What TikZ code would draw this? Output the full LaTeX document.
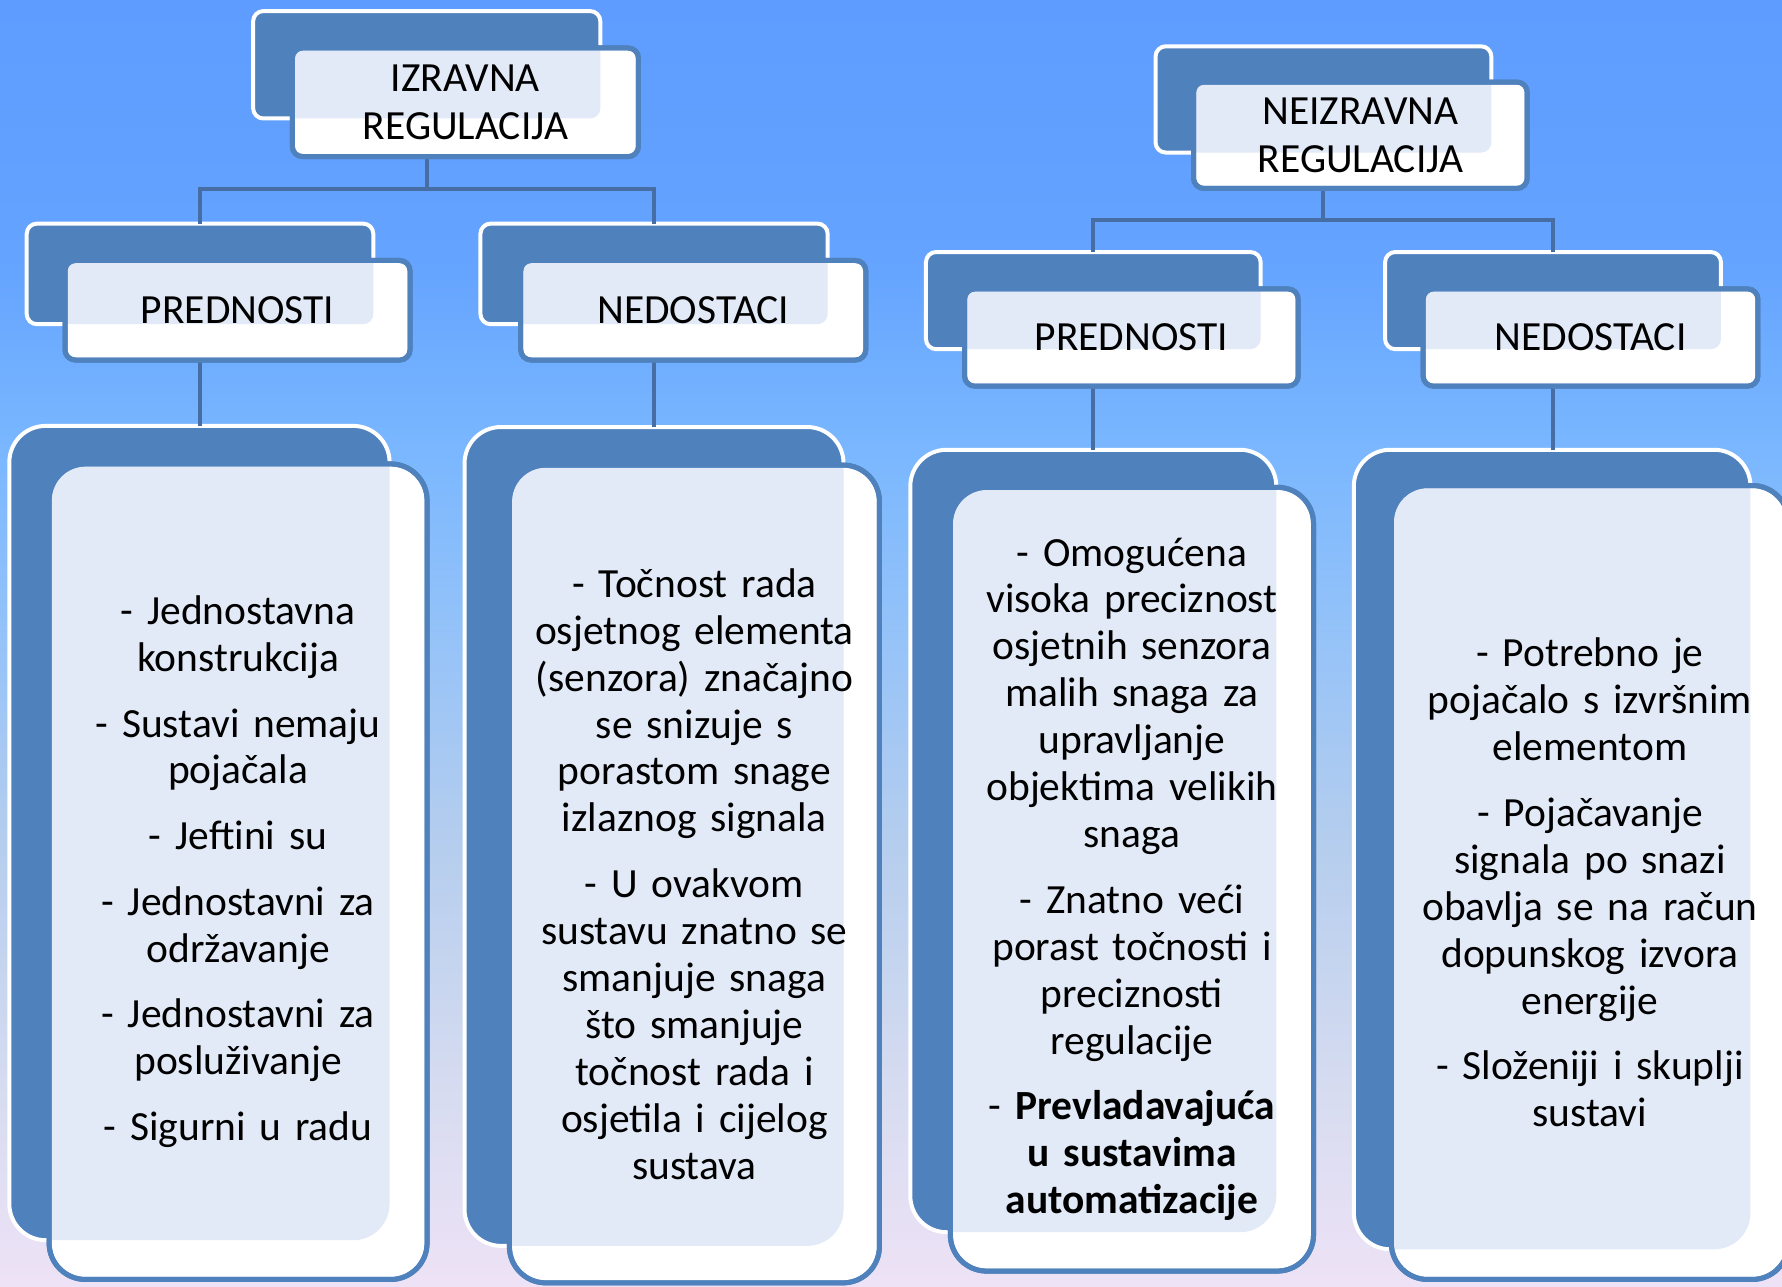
\documentclass[tikz,border=0pt]{standalone}
\usepackage{fontspec}
\setmainfont{Carlito}
\definecolor{backblue}{RGB}{79,129,189}
\definecolor{frontblue}{RGB}{79,129,189}
\definecolor{tintc}{RGB}{226,234,247}
\definecolor{connc}{RGB}{70,110,165}
\definecolor{bgA}{RGB}{94,156,255}
\definecolor{bgB}{RGB}{100,163,255}
\definecolor{bgC}{RGB}{122,183,255}
\definecolor{bgD}{RGB}{150,195,248}
\definecolor{bgE}{RGB}{180,205,238}
\definecolor{bgF}{RGB}{215,220,240}
\definecolor{bgG}{RGB}{238,226,246}
\pgfdeclareverticalshading{bgshade}{100bp}{color(0bp)=(bgG); color(25bp)=(bgG); color(32.5bp)=(bgF); color(42.5bp)=(bgE); color(50bp)=(bgD); color(57.5bp)=(bgC); color(65bp)=(bgB); color(75bp)=(bgA); color(100bp)=(bgA)}
\tikzset{
  backbox/.style={draw=white, line width=3.5pt, fill=backblue, rounded corners=#1, inner sep=0pt, outer sep=0pt},
  frontbox/.style={draw=frontblue, line width=4.4pt, fill=white, rounded corners=#1, inner sep=0pt, outer sep=0pt, align=center},
  frontedge/.style={draw=frontblue, line width=4.4pt, rounded corners=#1},
  tintover/.style={path picture={\fill[tintc, rounded corners=#1] (\tintnode.north west) rectangle (\tintnode.south east);}},
  conn/.style={draw=connc, line width=3.5pt},
  headtext/.style={font=\fontsize{36.5pt}{42pt}\selectfont},
  bodytext/.style={font=\fontsize{36.5pt}{41.3pt}\selectfont, text width=300pt},
}
\newcommand{\tintnode}{b1}
\begin{document}
\begin{tikzpicture}[x=1pt,y=-1pt]
\useasboundingbox (0,0) rectangle (1568,1132);
\shade[shading=bgshade] (0,0) rectangle (1568,1132);

% junction levels
\coordinate (j1) at (0,166);
\coordinate (j2) at (0,193.5);

% ---------- back boxes ----------
\node[backbox=9pt, minimum width=305.5pt, minimum height=94.5pt] (b1) at (375.5,57) {};
\node[backbox=9pt, minimum width=305pt, minimum height=88.5pt] (b2) at (176,241) {};
\node[backbox=9pt, minimum width=305.5pt, minimum height=88.5pt] (b3) at (575.5,241) {};
\node[backbox=9pt, minimum width=295.5pt, minimum height=93.5pt] (b4) at (1164.5,87.5) {};
\node[backbox=9pt, minimum width=294.5pt, minimum height=85.5pt] (b5) at (962,264.5) {};
\node[backbox=9pt, minimum width=295.5pt, minimum height=85.5pt] (b6) at (1366.5,264.5) {};
\node[backbox=32pt, minimum width=334.6pt, minimum height=716.5pt] (b7) at (175.5,733) {};
\node[backbox=32pt, minimum width=333.5pt, minimum height=720.5pt] (b8) at (575.5,736) {};
\node[backbox=32pt, minimum width=322pt, minimum height=688.5pt] (b9) at (962,740) {};
\node[backbox=32pt, minimum width=349pt, minimum height=703.5pt] (b10) at (1365.75,747.5) {};

% ---------- connectors ----------
\draw[conn] (b1.south |- j1) -- (b1.south);
\draw[conn] (b2.north) |- (b1.south |- j1) -| (b3.north);
\draw[conn] (b4.south |- j2) -- (b4.south);
\draw[conn] (b5.north) |- (b4.south |- j2) -| (b6.north);
\draw[conn] (b2.south) -- (b7.north -| b2.south);
\draw[conn] (b3.south) -- (b8.north -| b3.south);
\draw[conn] (b5.south) -- (b9.north -| b5.south);
\draw[conn] (b6.south) -- (b10.north -| b6.south);

% ---------- front boxes ----------
\renewcommand{\tintnode}{b1}
\node[frontbox=9pt, tintover=9pt, headtext, minimum width=304.6pt, minimum height=95.6pt] (f1) at (409.5,90) {IZRAVNA\\REGULACIJA};
\draw[frontedge=9pt] (f1.north west) rectangle (f1.south east);
\renewcommand{\tintnode}{b2}
\node[frontbox=9pt, tintover=9pt, headtext, minimum width=303.6pt, minimum height=87.6pt] (f2) at (209,273) {PREDNOSTI};
\draw[frontedge=9pt] (f2.north west) rectangle (f2.south east);
\renewcommand{\tintnode}{b3}
\node[frontbox=9pt, tintover=9pt, headtext, minimum width=303.6pt, minimum height=87.6pt] (f3) at (610,273) {NEDOSTACI};
\draw[frontedge=9pt] (f3.north west) rectangle (f3.south east);
\renewcommand{\tintnode}{b4}
\node[frontbox=9pt, tintover=9pt, headtext, minimum width=293.6pt, minimum height=93.6pt] (f4) at (1197,119) {NEIZRAVNA\\REGULACIJA};
\draw[frontedge=9pt] (f4.north west) rectangle (f4.south east);
\renewcommand{\tintnode}{b5}
\node[frontbox=9pt, tintover=9pt, headtext, minimum width=293.6pt, minimum height=85.6pt] (f5) at (995.5,297) {PREDNOSTI};
\draw[frontedge=9pt] (f5.north west) rectangle (f5.south east);
\renewcommand{\tintnode}{b6}
\node[frontbox=9pt, tintover=9pt, headtext, minimum width=294.6pt, minimum height=85.6pt] (f6) at (1399.5,297) {NEDOSTACI};
\draw[frontedge=9pt] (f6.north west) rectangle (f6.south east);

\renewcommand{\tintnode}{b7}
\node[frontbox=32pt, tintover=32pt, bodytext, minimum width=332.6pt, minimum height=717.6pt] (f7) at (209.5,767) {%
- Jednostavna\\ konstrukcija\\[16.5pt]
- Sustavi nemaju\\ pojačala\\[16.5pt]
- Jeftini su\\[16.5pt]
- Jednostavni za\\ održavanje\\[16.5pt]
- Jednostavni za\\ posluživanje\\[16.5pt]
- Sigurni u radu};
\draw[frontedge=32pt] (f7.north west) rectangle (f7.south east);

\renewcommand{\tintnode}{b8}
\node[frontbox=32pt, tintover=32pt, bodytext, minimum width=325.6pt, minimum height=719.6pt] (f8) at (611,769) {%
- Točnost rada\\ osjetnog elementa\\ (senzora) značajno\\ se snizuje s\\ porastom snage\\ izlaznog signala\\[16.5pt]
- U ovakvom\\ sustavu znatno se\\ smanjuje snaga\\ što smanjuje\\ točnost rada i\\ osjetila i cijelog\\ sustava};
\draw[frontedge=32pt] (f8.north west) rectangle (f8.south east);

\renewcommand{\tintnode}{b9}
\node[frontbox=32pt, tintover=32pt, bodytext, minimum width=319.6pt, minimum height=689.7pt] (f9) at (996,773.6) {%
- Omogućena\\ visoka preciznost\\ osjetnih senzora\\ malih snaga za\\ upravljanje\\ objektima velikih\\ snaga\\[16.5pt]
- Znatno veći\\ porast točnosti i\\ preciznosti\\ regulacije\\[16.5pt]
- \textbf{Prevladavajuća}\\ \textbf{u sustavima}\\ \textbf{automatizacije}};
\draw[frontedge=32pt] (f9.north west) rectangle (f9.south east);

\renewcommand{\tintnode}{b10}
\node[frontbox=32pt, tintover=32pt, bodytext, minimum width=349.6pt, minimum height=698.6pt] (f10) at (1399,776.5) {%
- Potrebno je\\ pojačalo s izvršnim\\ elementom\\[16.5pt]
- Pojačavanje\\ signala po snazi\\ obavlja se na račun\\ dopunskog izvora\\ energije\\[16.5pt]
- Složeniji i skuplji\\ sustavi};
\draw[frontedge=32pt] (f10.north west) rectangle (f10.south east);
\end{tikzpicture}
\end{document}
